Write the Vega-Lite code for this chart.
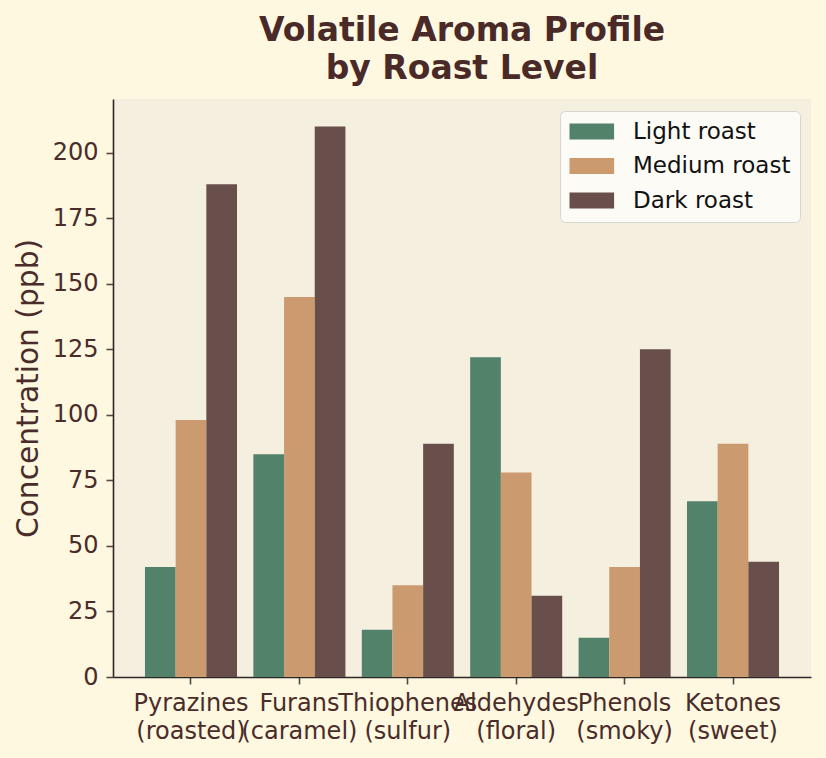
{
  "$schema": "https://vega.github.io/schema/vega-lite/v6.json",
  "width": 698,
  "height": 578,
  "autosize": {"type": "none"},
  "padding": {"left": 113, "top": 99, "right": 15, "bottom": 81},
  "background": "#FEF8E0",
  "title": {
    "text": ["Volatile Aroma Profile", "by Roast Level"],
    "font": "DejaVu Sans",
    "fontSize": 33,
    "fontWeight": "bold",
    "color": "#4A2A28",
    "anchor": "middle",
    "lineHeight": 38,
    "offset": 13
  },
  "config": {
    "font": "DejaVu Sans",
    "view": {"fill": "#F5EFE0", "stroke": null}
  },
  "data": {
    "values": [
      {"compound": "Pyrazines (roasted)", "roast": "Light roast", "ppb": 42},
      {"compound": "Pyrazines (roasted)", "roast": "Medium roast", "ppb": 98},
      {"compound": "Pyrazines (roasted)", "roast": "Dark roast", "ppb": 188},
      {"compound": "Furans (caramel)", "roast": "Light roast", "ppb": 85},
      {"compound": "Furans (caramel)", "roast": "Medium roast", "ppb": 145},
      {"compound": "Furans (caramel)", "roast": "Dark roast", "ppb": 210},
      {"compound": "Thiophenes (sulfur)", "roast": "Light roast", "ppb": 18},
      {"compound": "Thiophenes (sulfur)", "roast": "Medium roast", "ppb": 35},
      {"compound": "Thiophenes (sulfur)", "roast": "Dark roast", "ppb": 89},
      {"compound": "Aldehydes (floral)", "roast": "Light roast", "ppb": 122},
      {"compound": "Aldehydes (floral)", "roast": "Medium roast", "ppb": 78},
      {"compound": "Aldehydes (floral)", "roast": "Dark roast", "ppb": 31},
      {"compound": "Phenols (smoky)", "roast": "Light roast", "ppb": 15},
      {"compound": "Phenols (smoky)", "roast": "Medium roast", "ppb": 42},
      {"compound": "Phenols (smoky)", "roast": "Dark roast", "ppb": 125},
      {"compound": "Ketones (sweet)", "roast": "Light roast", "ppb": 67},
      {"compound": "Ketones (sweet)", "roast": "Medium roast", "ppb": 89},
      {"compound": "Ketones (sweet)", "roast": "Dark roast", "ppb": 44}
    ]
  },
  "mark": {"type": "bar"},
  "encoding": {
    "x": {
      "field": "compound",
      "type": "nominal",
      "sort": ["Pyrazines (roasted)", "Furans (caramel)", "Thiophenes (sulfur)", "Aldehydes (floral)", "Phenols (smoky)", "Ketones (sweet)"],
      "scale": {"paddingInner": 0.151, "paddingOuter": 0.295},
      "axis": {
        "title": null,
        "labelAngle": 0,
        "labelExpr": "split(datum.label, ' ')",
        "labelFontSize": 24,
        "labelColor": "#4A2C2A",
        "labelLineHeight": 28,
        "labelOverlap": false,
        "labelBound": false,
        "labelFlush": false,
        "labelPadding": 7,
        "domainColor": "#2E2626",
        "domainWidth": 1.6,
        "tickColor": "#5C4545",
        "tickWidth": 1.6,
        "tickSize": 7,
        "grid": false
      }
    },
    "xOffset": {
      "field": "roast",
      "type": "nominal",
      "sort": ["Light roast", "Medium roast", "Dark roast"],
      "scale": {"paddingInner": 0, "paddingOuter": 0}
    },
    "y": {
      "field": "ppb",
      "type": "quantitative",
      "scale": {"domain": [0, 220.5], "nice": false},
      "axis": {
        "title": "Concentration (ppb)",
        "titleFontSize": 29.7,
        "titleFontWeight": "normal",
        "titleColor": "#4A2C2A",
        "titlePadding": 9,
        "values": [0, 25, 50, 75, 100, 125, 150, 175, 200],
        "labelFontSize": 24,
        "labelColor": "#4A2C2A",
        "labelPadding": 8,
        "domainColor": "#2E2626",
        "domainWidth": 1.6,
        "tickColor": "#5C4545",
        "tickWidth": 1.6,
        "tickSize": 7,
        "grid": false
      }
    },
    "color": {
      "field": "roast",
      "type": "nominal",
      "scale": {
        "domain": ["Light roast", "Medium roast", "Dark roast"],
        "range": ["#52826A", "#CB9A6F", "#684F4B"]
      },
      "legend": {
        "title": null,
        "orient": "none",
        "legendX": 447,
        "legendY": 12,
        "fillColor": "#FDFBF6",
        "strokeColor": "#D8D6D0",
        "cornerRadius": 5,
        "padding": 9,
        "symbolType": "M-1.375,-1H4.2V1H-1.375Z",
        "symbolSize": 256,
        "symbolStrokeWidth": 0,
        "symbolOpacity": 1,
        "labelFontSize": 23,
        "labelColor": "#111111",
        "labelOffset": 41,
        "rowPadding": 10.5
      }
    }
  }
}
